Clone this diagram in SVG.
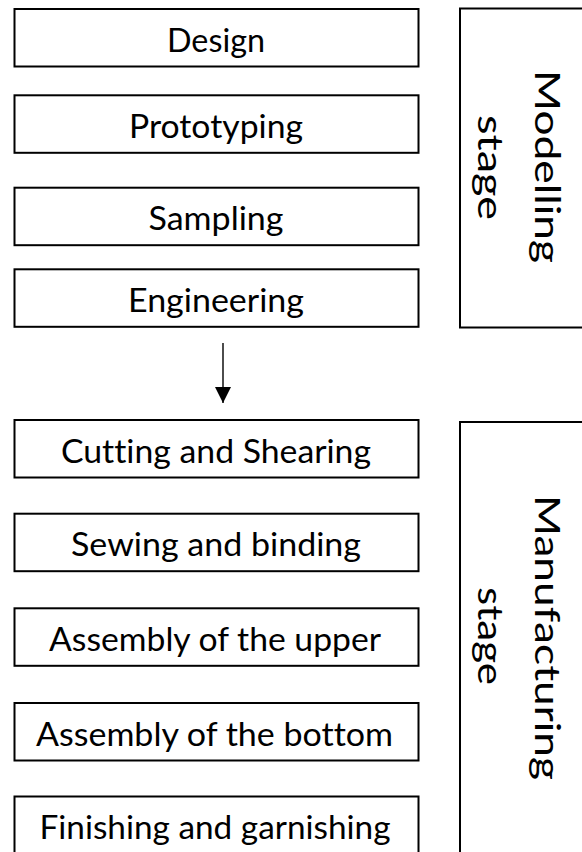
<svg xmlns="http://www.w3.org/2000/svg" width="582" height="852" viewBox="0 0 582 852">
  <style>
    .box { fill: #ffffff; stroke: #000000; stroke-width: 2; }
    .label { font-family: Lato, "Open Sans", "Liberation Sans", sans-serif; font-size: 32px; fill: #000000; text-anchor: middle; font-variant-ligatures: none; }
    .stage { font-family: Lato, "Open Sans", "Liberation Sans", sans-serif; font-size: 35px; fill: #000000; text-anchor: middle; font-variant-ligatures: none; }
    .link { stroke: #000000; stroke-width: 1.4; fill: none; }
  </style>
  <defs>
    <marker id="arrowhead" markerUnits="userSpaceOnUse" markerWidth="16" markerHeight="16" refX="16" refY="8" orient="auto">
      <path d="M0,0 L16,8 L0,16 Z" fill="#000000"/>
    </marker>
  </defs>

  <rect x="0" y="0" width="582" height="852" fill="#ffffff"/>

  <!-- stage brackets -->
  <g id="modelling-stage">
    <rect class="box" x="460" y="8.5" width="200" height="319"/>
    <text class="stage" transform="translate(535,166.5) rotate(90)" textLength="193" lengthAdjust="spacingAndGlyphs">Modelling</text>
    <text class="stage" transform="translate(478,167.5) rotate(90)" textLength="105" lengthAdjust="spacingAndGlyphs">stage</text>
  </g>
  <g id="manufacturing-stage">
    <rect class="box" x="460" y="422" width="200" height="480"/>
    <text class="stage" transform="translate(535,637.5) rotate(90)" textLength="285" lengthAdjust="spacingAndGlyphs">Manufacturing</text>
    <text class="stage" transform="translate(478,636) rotate(90)" textLength="98" lengthAdjust="spacingAndGlyphs">stage</text>
  </g>

  <!-- modelling steps -->
  <g id="design">
    <rect class="box" x="14.5" y="9" width="404" height="57.5"/>
    <text class="label" x="216" y="51.5" textLength="98" lengthAdjust="spacingAndGlyphs">Design</text>
  </g>
  <g id="prototyping">
    <rect class="box" x="14.5" y="95.3" width="404" height="57.5"/>
    <text class="label" x="216" y="137.8" textLength="174" lengthAdjust="spacingAndGlyphs">Prototyping</text>
  </g>
  <g id="sampling">
    <rect class="box" x="14.5" y="187.7" width="404" height="57.5"/>
    <text class="label" x="216" y="230.2" textLength="135" lengthAdjust="spacingAndGlyphs">Sampling</text>
  </g>
  <g id="engineering">
    <rect class="box" x="14.5" y="269.3" width="404" height="57.5"/>
    <text class="label" x="216" y="311.8" textLength="176" lengthAdjust="spacingAndGlyphs">Engineering</text>
  </g>

  <!-- manufacturing steps -->
  <g id="cutting">
    <rect class="box" x="14.5" y="420" width="404" height="57.5"/>
    <text class="label" x="216" y="462.5" textLength="310" lengthAdjust="spacingAndGlyphs">Cutting and Shearing</text>
  </g>
  <g id="sewing">
    <rect class="box" x="14.5" y="513.7" width="404" height="57.5"/>
    <text class="label" x="216" y="556.2" textLength="290" lengthAdjust="spacingAndGlyphs">Sewing and binding</text>
  </g>
  <g id="assembly-upper">
    <rect class="box" x="14.5" y="608.3" width="404" height="57.5"/>
    <text class="label" x="215" y="650.8" textLength="332" lengthAdjust="spacingAndGlyphs">Assembly of the upper</text>
  </g>
  <g id="assembly-bottom">
    <rect class="box" x="14.5" y="703" width="404" height="57.5"/>
    <text class="label" x="214.5" y="745.5" textLength="357" lengthAdjust="spacingAndGlyphs">Assembly of the bottom</text>
  </g>
  <g id="finishing">
    <rect class="box" x="14.5" y="796.5" width="404" height="57.5"/>
    <text class="label" x="215" y="839" textLength="351" lengthAdjust="spacingAndGlyphs">Finishing and garnishing</text>
  </g>

  <!-- flow between stages -->
  <g id="connectors">
    <line class="link" x1="223" y1="343" x2="223" y2="403" marker-end="url(#arrowhead)"/>
  </g>
</svg>
